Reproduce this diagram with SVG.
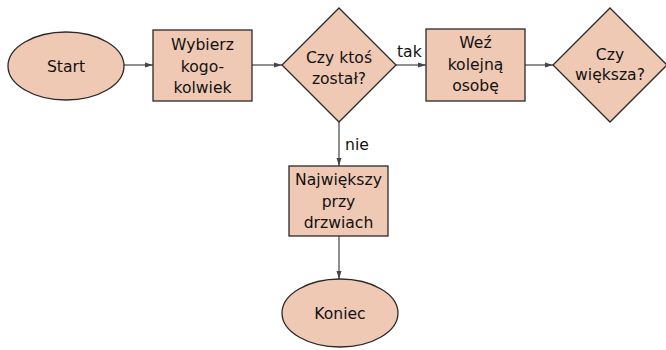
<svg xmlns="http://www.w3.org/2000/svg" width="666" height="350" viewBox="0 0 666 350">
<style>
.n{fill:#f0c9b4;stroke:#2a2a2a;stroke-width:1.3}
.t{font-family:"DejaVu Sans",sans-serif;font-size:15.6px;fill:#111;text-anchor:middle}
.l{font-family:"DejaVu Sans",sans-serif;font-size:15.6px;fill:#111}
.c{stroke:#444;stroke-width:1.2;fill:none;marker-end:url(#a)}
</style>
<defs>
<marker id="a" markerWidth="8" markerHeight="6" refX="8" refY="3" orient="auto" markerUnits="userSpaceOnUse">
<path d="M0,0.5 L8,3 L0,5.5 Z" fill="#444"/>
</marker>
</defs>
<rect width="666" height="350" fill="#fff"/>
<g id="connectors">
<line class="c" x1="124" y1="65" x2="153" y2="65"/>
<line class="c" x1="252" y1="65" x2="282" y2="65"/>
<line class="c" x1="396" y1="65" x2="426" y2="65"/>
<line class="c" x1="525" y1="65" x2="553" y2="65"/>
<line class="c" x1="339" y1="122" x2="339" y2="166"/>
<line class="c" x1="339" y1="236" x2="339" y2="279"/>
<text class="l" x="397" y="57">tak</text>
<text class="l" x="345" y="150">nie</text>
</g>
<g id="start">
<ellipse class="n" cx="66" cy="66" rx="58" ry="34"/>
<text class="t" x="66" y="72">Start</text>
</g>
<g id="wybierz">
<rect class="n" x="153" y="30" width="99" height="71"/>
<text class="t" x="202.5" y="50">Wybierz</text>
<text class="t" x="202.5" y="71.5">kogo-</text>
<text class="t" x="202.5" y="93">kolwiek</text>
</g>
<g id="czy-ktos">
<polygon class="n" points="339,8 396,65 339,122 282,65"/>
<text class="t" x="339" y="63">Czy ktoś</text>
<text class="t" x="339" y="84">został?</text>
</g>
<g id="wez">
<rect class="n" x="426" y="29" width="99" height="72"/>
<text class="t" x="475.5" y="48">Weź</text>
<text class="t" x="475.5" y="70">kolejną</text>
<text class="t" x="475.5" y="91">osobę</text>
</g>
<g id="czy-wieksza">
<polygon class="n" points="610,8 667,65 610,122 553,65"/>
<text class="t" x="610" y="60">Czy</text>
<text class="t" x="610" y="80">większa?</text>
</g>
<g id="najwiekszy">
<rect class="n" x="289" y="166" width="99" height="70"/>
<text class="t" x="338.5" y="185">Największy</text>
<text class="t" x="338.5" y="207">przy</text>
<text class="t" x="338.5" y="228">drzwiach</text>
</g>
<g id="koniec">
<ellipse class="n" cx="340" cy="313" rx="58" ry="34"/>
<text class="t" x="340" y="319">Koniec</text>
</g>
</svg>
